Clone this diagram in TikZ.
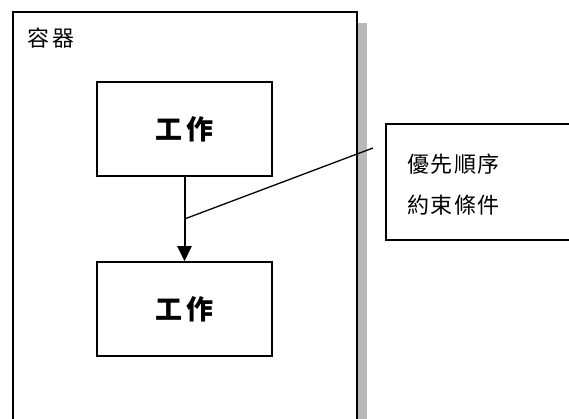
\documentclass[tikz,border=0pt]{standalone}
\usepackage{fontspec}
\newfontfamily\cjk{Noto Sans CJK TC}
\usetikzlibrary{arrows.meta}
\tikzset{
  box/.style={draw=black, line width=1.5pt, fill=white, inner sep=0pt},
  task/.style={box, minimum width=175pt, minimum height=94pt, font=\cjk\bfseries\fontsize{27}{31}\selectfont},
  lbl/.style={font=\cjk\fontsize{22}{26}\selectfont, inner sep=0pt},
  flow/.style={line width=2pt, -{Triangle[width=14pt,length=15pt]}},
  lead/.style={line width=1.3pt},
}
\begin{document}
\begin{tikzpicture}[x=1pt,y=-1pt]
\useasboundingbox (0,0) rectangle (569,419);
\fill[white] (0,0) rectangle (569,419);
% shadow of the container
\fill[gray!55] (358,23) rectangle (367,430);
\node[box, minimum width=344pt, minimum height=420pt] (container) at (185,222) {};
\node[lbl] (clabel) at (51,38) {容\hspace{4pt}器};
\node[task] (t1) at (184.5,129) {工\hspace{4pt}作};
\node[task] (t2) at (184.5,309) {工\hspace{4pt}作};
\draw[flow] (t1.south) -- (t2.north);
\node[box, minimum width=190pt, minimum height=116pt] (note) at (481,182) {};
\node[lbl, align=left] (notetext) at (453.5,185)
  {優\hspace{1.5pt}先\hspace{1.5pt}順\hspace{1.5pt}序\\[15pt]約\hspace{1.5pt}束\hspace{1.5pt}條\hspace{1.5pt}件};
\coordinate (lstart) at (373,148);
\coordinate (lend) at (t1.south |- 0,219);
\draw[lead] (lstart) -- (lend);
\end{tikzpicture}
\end{document}
